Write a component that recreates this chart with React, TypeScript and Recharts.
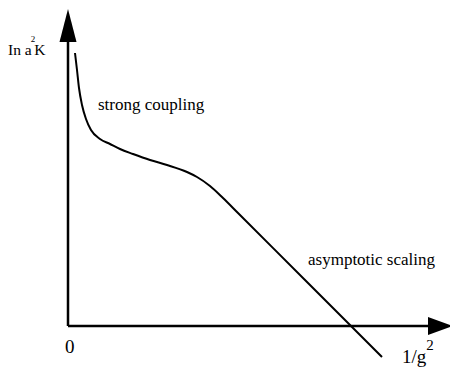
import React from "react";
import { LineChart, Line, XAxis, YAxis, ReferenceLine, ReferenceDot } from "recharts";

// curve sample points (x = 1/g^2 units, y = ln a^2 K units)
const curveX = [7, 9, 11, 14, 18, 23, 32, 42, 52, 65, 82, 99, 119, 129, 142, 155, 170, 240, 314];
const curveY = [273, 256, 238, 221, 207, 196, 187, 182, 177, 172, 166, 161, 154, 149, 140, 128, 113, 43, -31];

const xDomain: [number, number] = [-68, 382];
const yDomain: [number, number] = [-44, 326];
const xAxisEnd = 360;
const yAxisEnd = 284;
const xArrowTip = 385;
const yArrowTip = 317;

const labels = [
  { key: "strong", text: "strong coupling", x: 30, y: 216, size: 17 },
  { key: "asym", text: "asymptotic scaling", x: 240, y: 61, size: 17 },
  { key: "zero", text: "0", x: -3, y: -27, size: 19 },
];

const data = curveX.map((x, i) => ({ x, y: curveY[i] }));
const FONT = "Liberation Serif";

const UpArrow = (p: any) => (
  <polygon points={`${p.cx},${p.cy} ${p.cx - 8.5},${p.cy + 33} ${p.cx + 8.5},${p.cy + 33}`} fill="#000" />
);
const RightArrow = (p: any) => (
  <polygon points={`${p.cx},${p.cy} ${p.cx - 25},${p.cy - 9} ${p.cx - 25},${p.cy + 9}`} fill="#000" />
);

const makeText = (text: string, size: number) => (p: any) => (
  <text x={p.cx} y={p.cy} fill="#000" fontFamily={FONT} fontSize={size}>{text}</text>
);

const YLabel = (p: any) => (
  <text x={p.cx} y={p.cy} fill="#000" fontFamily={FONT} fontSize={15.5}>
    In a<tspan dy={-13} dx={-1} fontSize={9}>2</tspan><tspan dy={13} dx={-1}>K</tspan>
  </text>
);
const XLabel = (p: any) => (
  <text x={p.cx} y={p.cy} fill="#000" fontFamily={FONT} fontSize={19}>
    1/g<tspan dy={-13} fontSize={15}>2</tspan>
  </text>
);

export default function App() {
  return (
    <div style={{ position: "absolute", left: 0, top: 0, width: 450, height: 370, background: "#fff" }}>
      <LineChart width={450} height={370} data={data} margin={{ top: 0, right: 0, bottom: 0, left: 0 }}>
        <XAxis type="number" dataKey="x" domain={xDomain} hide allowDataOverflow />
        <YAxis type="number" dataKey="y" domain={yDomain} hide allowDataOverflow width={0} />
        <ReferenceLine segment={[{ x: 0, y: 0 }, { x: 0, y: yAxisEnd }]} stroke="#000" strokeWidth={2.5} ifOverflow="visible" />
        <ReferenceLine segment={[{ x: 0, y: 0 }, { x: xAxisEnd, y: 0 }]} stroke="#000" strokeWidth={2.5} ifOverflow="visible" />
        <ReferenceDot x={0} y={yArrowTip} r={0} shape={UpArrow} ifOverflow="visible" />
        <ReferenceDot x={xArrowTip} y={0} r={0} shape={RightArrow} ifOverflow="visible" />
        <Line type="monotone" dataKey="y" stroke="#000" strokeWidth={2} dot={false} activeDot={false} isAnimationActive={false} />
        {labels.map((l) => (
          <ReferenceDot key={l.key} x={l.x} y={l.y} r={0} shape={makeText(l.text, l.size)} ifOverflow="visible" />
        ))}
        <ReferenceDot x={-60} y={271} r={0} shape={YLabel} ifOverflow="visible" />
        <ReferenceDot x={334} y={-37} r={0} shape={XLabel} ifOverflow="visible" />
      </LineChart>
    </div>
  );
}
